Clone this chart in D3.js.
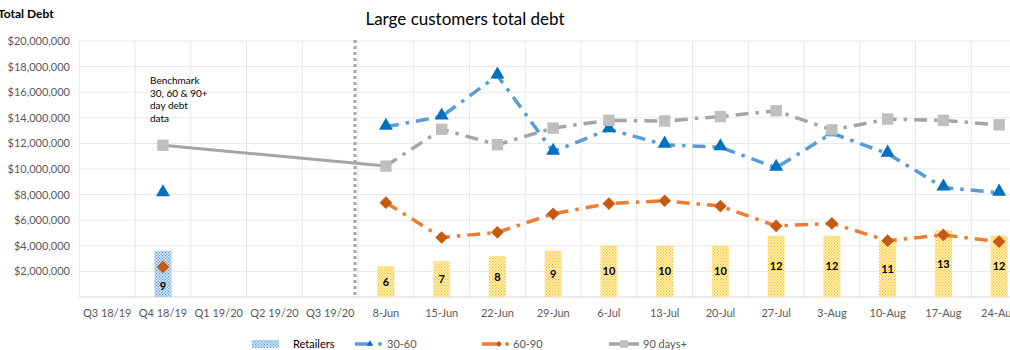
<!DOCTYPE html>
<html>
<head>
<meta charset="utf-8">
<script src="https://cdn.jsdelivr.net/npm/d3@7"></script>
<style>
  body { margin: 0; background: #fff; }
  svg { display: block; font-family: Lato, "Open Sans", sans-serif; }
</style>
</head>
<body>
<script>
// categories on the x axis (quarters, then weeks)
const quarters = ["Q3 18/19", "Q4 18/19", "Q1 19/20", "Q2 19/20", "Q3 19/20"];
const weeks = ["8-Jun", "15-Jun", "22-Jun", "29-Jun", "6-Jul", "13-Jul", "20-Jul",
               "27-Jul", "3-Aug", "10-Aug", "17-Aug", "24-Aug"];
const categories = quarters.concat(weeks);

// benchmark (Q4 18/19)
const benchCat = "Q4 18/19";
const benchRetailers = 9;
const bench3060 = 8100000;
const bench6090 = 2350000;
const bench90 = 11850000;

// weekly values
const retailers = [6, 7, 8, 9, 10, 10, 10, 12, 12, 11, 13, 12];
const d3060 = [13300000, 14100000, 17300000, 11350000, 13100000, 11900000, 11700000,
               10100000, 12800000, 11200000, 8550000, 8150000];
const d6090 = [7370000, 4650000, 5050000, 6500000, 7300000, 7520000, 7100000,
               5550000, 5750000, 4400000, 4850000, 4320000];
const d90 = [10230000, 13100000, 11900000, 13200000, 13800000, 13750000, 14100000,
             14550000, 13050000, 13900000, 13800000, 13450000];

const yTicks = [2e6, 4e6, 6e6, 8e6, 10e6, 12e6, 14e6, 16e6, 18e6, 20e6];

const width = 1010, height = 350;
const svg = d3.select("body").append("svg")
    .attr("width", width)
    .attr("height", height);

const x = d3.scaleBand().domain(categories).range([79.3, 1027]).padding(0);
const cx = c => x(c) + x.bandwidth() / 2;
const y = d3.scaleLinear().domain([0, 20000000]).range([297, 41]);
const yBar = d3.scaleLinear().domain([0, 50]).range([297, 41]);

// patterns
const defs = svg.append("defs");
function dotPattern(id, bg, dot) {
  const p = defs.append("pattern").attr("id", id)
      .attr("patternUnits", "userSpaceOnUse").attr("width", 3).attr("height", 3);
  p.append("rect").attr("width", 3).attr("height", 3).attr("fill", bg);
  p.append("rect").attr("x", 0).attr("y", 0).attr("width", 1.2).attr("height", 1.2).attr("fill", dot);
  p.append("rect").attr("x", 1.5).attr("y", 1.5).attr("width", 1.2).attr("height", 1.2).attr("fill", dot);
}
dotPattern("dotBlue", "#d5e6f6", "#5b9bd5");
dotPattern("dotGold", "#fff2cc", "#ffc000");

const grid = svg.append("g");
// horizontal grid
grid.selectAll("line.h")
  .data(yTicks)
  .enter().append("line")
    .attr("x1", 79.3).attr("x2", 1027)
    .attr("y1", d => y(d)).attr("y2", d => y(d))
    .attr("stroke", "#e8e8e8").attr("stroke-width", 1);
// vertical grid at category boundaries
grid.selectAll("line.v")
  .data(categories)
  .enter().append("line")
    .attr("x1", d => x(d)).attr("x2", d => x(d))
    .attr("y1", y(20000000)).attr("y2", y(0))
    .attr("stroke", "#e8e8e8").attr("stroke-width", 1);
// axis line
svg.append("line")
    .attr("x1", 79.3).attr("x2", 1027).attr("y1", y(0)).attr("y2", y(0))
    .attr("stroke", "#d9d9d9");

// y labels
svg.append("g").selectAll("text")
  .data(yTicks)
  .enter().append("text")
    .attr("x", 70).attr("y", d => y(d) + 4)
    .attr("text-anchor", "end")
    .attr("font-size", 11).attr("fill", "#595959")
    .text(d => "$" + d3.format(",")(d));

// x labels
svg.append("g").selectAll("text")
  .data(categories)
  .enter().append("text")
    .attr("x", d => cx(d)).attr("y", 317)
    .attr("text-anchor", "middle")
    .attr("font-size", 11).attr("fill", "#595959")
    .text(d => d);

// bars
const barW = 17;
svg.append("rect")
    .attr("x", cx(benchCat) - barW / 2).attr("width", barW)
    .attr("y", yBar(benchRetailers)).attr("height", y(0) - yBar(benchRetailers))
    .attr("fill", "url(#dotBlue)");
svg.append("g").selectAll("rect")
  .data(retailers)
  .enter().append("rect")
    .attr("x", (d, i) => cx(weeks[i]) - barW / 2).attr("width", barW)
    .attr("y", d => yBar(d)).attr("height", d => y(0) - yBar(d))
    .attr("fill", "url(#dotGold)");

// bar labels (benchmark label sits low, under its marker)
const barLabels = [{c: benchCat, v: benchRetailers, low: true}]
  .concat(retailers.map((v, i) => ({c: weeks[i], v: v, low: false})));
svg.append("g").selectAll("text")
  .data(barLabels)
  .enter().append("text")
    .attr("x", d => cx(d.c))
    .attr("y", d => d.low ? y(0) - 7 : (yBar(d.v) + y(0)) / 2 + 4)
    .attr("text-anchor", "middle")
    .attr("font-size", 11).attr("font-weight", "bold").attr("fill", "#000")
    .text(d => d.v);

// separator
svg.append("line")
    .attr("x1", x("8-Jun") - 3).attr("x2", x("8-Jun") - 3)
    .attr("y1", 40).attr("y2", y(0))
    .attr("stroke", "#a6a6a6").attr("stroke-width", 3)
    .attr("stroke-dasharray", "3,3");

// solid grey link between benchmark and first week
svg.append("line")
    .attr("x1", cx(benchCat)).attr("y1", y(bench90))
    .attr("x2", cx(weeks[0])).attr("y2", y(d90[0]))
    .attr("stroke", "#a5a5a5").attr("stroke-width", 3);

const line = d3.line()
    .x((d, i) => cx(weeks[i]))
    .y(d => y(d));

const series = [
  {name: "30-60", data: d3060, bench: bench3060, stroke: "#5b9bd5", marker: "#0070c0", shape: "tri"},
  {name: "60-90", data: d6090, bench: bench6090, stroke: "#ed7d31", marker: "#c55a11", shape: "dia"},
  {name: "90 days+", data: d90, bench: bench90, stroke: "#a5a5a5", marker: "#bfbfbf", shape: "sq"}
];
function marker(shape, size) {
  if (shape === "tri") return d3.symbol().type(d3.symbolTriangle).size(size * 0.65)();
  return d3.symbol().type(d3.symbolSquare).size(shape === "dia" ? size * 0.62 : size)();
}
const rot = shape => shape === "dia" ? " rotate(45)" : "";

series.forEach(s => {
  svg.append("path")
      .attr("d", line(s.data))
      .attr("fill", "none")
      .attr("stroke", s.stroke).attr("stroke-width", 3.5)
      .attr("stroke-dasharray", "13,7,3.5,7");
  const pts = [{c: benchCat, v: s.bench}].concat(s.data.map((v, i) => ({c: weeks[i], v: v})));
  svg.append("g").selectAll("path")
    .data(pts)
    .enter().append("path")
      .attr("d", marker(s.shape, 130))
      .attr("transform", d => `translate(${cx(d.c)},${y(d.v) - (s.shape === "tri" ? 1 : 0)})` + rot(s.shape))
      .attr("fill", s.marker);
});

// titles
svg.append("text")
    .attr("x", 465).attr("y", 25)
    .attr("text-anchor", "middle")
    .attr("font-size", 17).attr("fill", "#000")
    .text("Large customers total debt");
svg.append("text")
    .attr("x", -2).attr("y", 18)
    .attr("font-size", 12).attr("font-weight", "bold").attr("fill", "#000")
    .text("Total Debt");

// benchmark note
const note = ["Benchmark", "30, 60 & 90+", "day debt", "data"];
svg.append("g").selectAll("text")
  .data(note)
  .enter().append("text")
    .attr("x", 150).attr("y", (d, i) => 84 + i * 12.7)
    .attr("font-size", 10).attr("fill", "#000")
    .text(d => d);

// legend
const lg = svg.append("g").attr("transform", "translate(0,344)");
lg.append("rect").attr("x", 252).attr("y", -4).attr("width", 27).attr("height", 8).attr("fill", "url(#dotBlue)");
lg.append("text").attr("x", 293).attr("y", 4).attr("font-size", 11).attr("fill", "#000").text("Retailers");

const legendItems = [
  {s: series[0], x0: 355, x1: 371, dot: 380, tx: 387},
  {s: series[1], x0: 482, x1: 500, dot: 507, tx: 513},
  {s: series[2], x0: 609, x1: 639, dot: null, tx: 643}
];
legendItems.forEach(it => {
  lg.append("line").attr("x1", it.x0).attr("x2", it.x1).attr("y1", 0).attr("y2", 0)
    .attr("stroke", it.s.stroke).attr("stroke-width", 3.5);
  if (it.dot !== null) {
    lg.append("rect").attr("x", it.dot - 1.75).attr("y", -1.75).attr("width", 3.5).attr("height", 3.5)
      .attr("fill", it.s.stroke);
  }
  const mx = it.dot !== null ? it.x1 - 1 : (it.x0 + it.x1) / 2;
  lg.append("path")
    .attr("d", marker(it.s.shape, it.dot !== null ? 28 : 60))
    .attr("transform", `translate(${mx},0)` + rot(it.s.shape))
    .attr("fill", it.s.marker);
  lg.append("text").attr("x", it.tx).attr("y", 4).attr("font-size", 11).attr("fill", "#595959").text(it.s.name);
});
</script>
</body>
</html>
